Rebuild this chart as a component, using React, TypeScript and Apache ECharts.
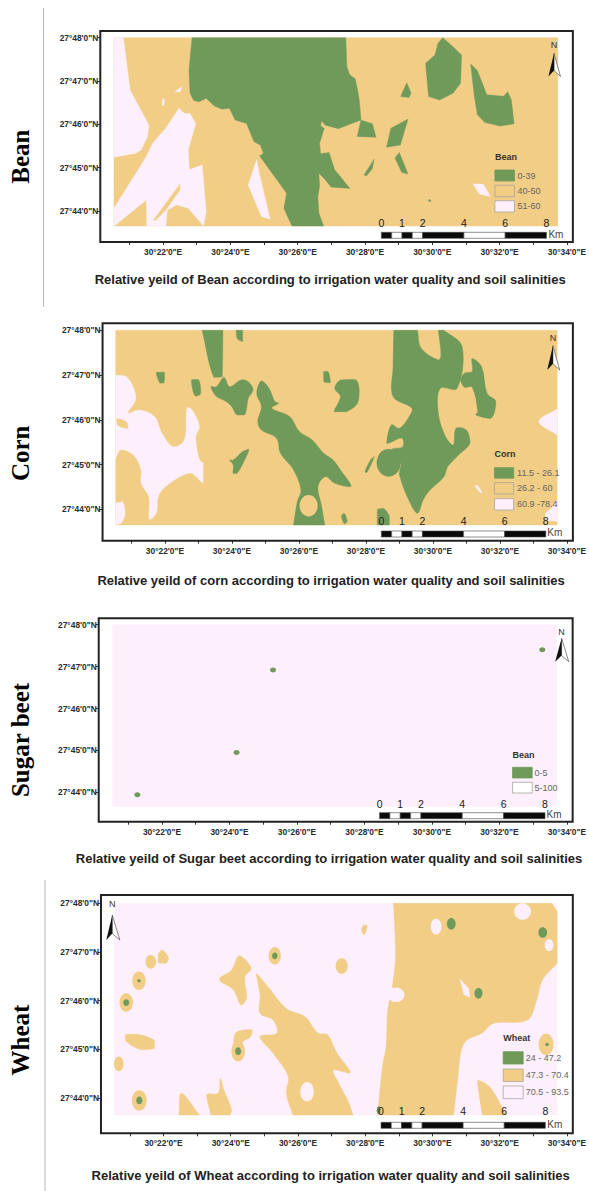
import React, { useEffect, useRef } from "react";
import * as echarts from "echarts";

type P = number[][];
const GREEN = "#6f9a5a";
const TAN = "#f1cd85";
const PINK = "#fdf0fc";

const lonTicks = [21, 22, 23, 24, 25, 26, 27, 28, 29, 30, 31, 32, 33, 34];
const lonLabels = [22, 24, 26, 28, 30, 32, 34];
const latTicks = [44, 45, 46, 47, 48];
const scaleKm = [0, 1, 2, 4, 6, 8];

const beanGreen: P[] = [
  [[22.86,48],[27.43,48],[27.46,47.33],[27.55,47.14],[27.71,47.05],[27.77,46.83],[27.83,46.56],[27.88,46.1],[27.21,45.9],[26.82,45.98],[26.71,46.08],[26.68,45.96],[26.79,45.91],[26.65,45.56],[26.68,45.32],[26.93,45.35],[27.1,44.95],[27.27,44.79],[27.55,44.52],[26.99,44.55],[26.82,44.72],[26.63,44.87],[26.65,44.56],[26.6,44.33],[26.63,43.95],[26.77,43.65],[25.83,43.65],[25.59,44.06],[25.67,44.41],[24.87,45.27],[24.98,45.33],[24.89,45.52],[24.7,45.6],[24.48,46.02],[24.14,46.1],[23.97,46.37],[23.75,46.35],[23.53,46.42],[23.28,46.6],[23.08,46.52],[22.91,46.55],[22.8,46.72],[22.77,47.25]],
  [[30.31,48],[30.56,47.83],[30.87,47.6],[30.84,46.95],[30.62,46.72],[30.22,46.56],[29.89,46.64],[29.8,47.41],[30.08,47.6],[30.17,47.87]],
  [[31.14,47.39],[31.34,47.24],[31.62,46.68],[32.12,46.65],[32.24,46.75],[32.35,46.56],[32.43,46.01],[32.01,45.96],[31.56,46.04],[31.34,46.22],[31.25,46.64]],
  [[29.24,46.96],[29.37,46.72],[29.31,46.62],[29.06,46.64]],
  [[27.88,46.1],[28.22,46.01],[28.33,45.7],[27.77,45.72]],
  [[29.28,46.12],[29.05,45.52],[28.64,45.47],[28.77,45.91]],
  [[29.02,45.35],[29.28,44.85],[29.09,44.89],[28.89,45.22]],
  [[28.27,45.19],[28.22,44.98],[28.05,44.81],[27.97,44.83]],
  [[29.91,44.27],[29.97,44.23],[29.91,44.21],[29.88,44.24]],
];
const beanPink: P[] = [
  [[20.54,48],[20.82,48],[21.02,46.79],[21.58,45.98],[21.54,45.72],[21.35,45.41],[21.19,45.33],[20.54,45.24]],
  [[20.54,44.06],[21.5,45.25],[21.69,45.56],[22.08,45.91],[22.47,46.37],[22.64,46.25],[22.8,46.25],[22.97,46.02],[22.75,45.41],[22.78,44.95],[23.16,45.06],[23.28,43.98],[23.2,43.65],[22.75,44.06],[22.41,44.14],[22.13,44.02],[22.08,43.65],[21.52,43.65],[21.5,44.25],[20.55,43.65]],
  [[24.78,45.18],[24.53,44.6],[24.92,43.87],[25.18,43.81],[24.87,44.83]],
  [[31.21,44.62],[31.51,44.62],[31.73,44.33],[31.4,44.39]],
  [[22.55,46.87],[22.52,46.75],[22.36,46.75]],
  [[21.99,46.6],[22.04,46.56],[22.02,46.42],[21.97,46.45]],
];
const beanTanStreak: P[] = [
  [[21.72,43.79],[22.5,44.62],[22.5,44.48],[22.08,44.02],[21.77,43.78]],
];

const cornPink: P[] = [
  [[20.53,47.0],[20.84,46.97],[21.07,46.7],[21.12,46.44],[20.9,46.15],[21.24,46.22],[21.69,46.07],[21.91,45.7],[22.25,45.4],[22.58,45.55],[22.66,46.26],[22.81,46.22],[23.03,45.85],[22.92,45.62],[23.03,45.1],[23.14,45.03],[23.14,44.6],[22.75,44.81],[22.02,44.51],[21.8,44.28],[21.74,43.91],[21.54,43.76],[21.52,44.28],[21.29,44.58],[21.29,44.88],[21.07,45.21],[20.68,45.33],[20.53,45.14]],
  [[20.53,44.14],[20.73,44.17],[20.81,43.91],[20.7,43.7],[20.53,43.65]],
  [[33.71,46.24],[33.16,45.96],[33.71,45.66]],
  [[33.71,44.21],[33.71,43.73],[33.38,43.76],[33.36,43.91],[33.53,44.02]],
  [[31.26,44.54],[31.34,44.52],[31.47,44.37],[31.39,44.39]],
];
const cornTanNotch: P[] = [
  [[20.56,46.03],[20.84,45.96],[20.9,45.81],[20.59,45.88]],
];
const cornGreen: P[] = [
  [[23.11,48],[23.73,48],[23.71,46.97],[23.46,46.95]],
  [[24.13,48],[24.32,48],[24.32,47.75],[24.15,47.82]],
  [[21.74,47.06],[21.99,47.06],[21.97,46.82],[21.85,46.82]],
  [[22.79,46.89],[23.0,46.9],[23.07,46.59],[22.9,46.53]],
  [[23.37,46.74],[23.54,46.74],[23.76,46.95],[23.93,46.74],[24.27,46.89],[24.49,46.85],[24.63,46.67],[24.49,46.48],[24.38,46.11],[24.15,46.11],[23.99,46.3],[23.82,46.41],[23.54,46.52],[23.43,46.63]],
  [[24.88,46.87],[25.11,46.7],[25.28,46.41],[25.39,46.37],[25.19,46.26],[25.73,46.07],[26.01,45.74],[26.4,45.55],[26.74,45.25],[27.02,45.1],[27.24,44.88],[27.56,44.52],[27.07,44.58],[26.79,44.73],[26.57,44.51],[26.68,44.06],[26.77,43.65],[25.84,43.65],[25.95,44.17],[26.06,44.43],[25.84,44.88],[25.45,45.25],[25.33,45.59],[24.88,45.77],[24.77,45.96],[24.88,46.3],[24.74,46.59]],
  [[24.04,45.1],[24.32,45.29],[24.51,45.34],[24.38,45.1],[24.15,44.8],[24.04,44.8],[24.04,44.99],[23.93,45.1]],
  [[26.74,47.08],[26.87,47.08],[26.94,46.83],[26.74,46.85]],
  [[27.24,46.89],[27.69,46.9],[27.8,46.67],[27.75,46.37],[27.41,46.18],[27.05,46.18],[27.24,46.52],[27.07,46.7]],
  [[28.83,48],[29.54,48],[29.65,47.6],[30.16,47.34],[30.24,47.45],[30.16,48],[30.33,48],[30.87,47.64],[30.72,46.7],[30.22,46.7],[30.16,46.15],[30.38,45.62],[30.61,45.44],[30.69,45.81],[31,45.77],[31.11,45.48],[30.72,45.18],[30.44,44.95],[30.33,44.73],[29.9,44.42],[29.71,44.21],[29.54,43.91],[29.32,44.14],[29.0,44.77],[29.04,45.03],[28.76,45.33],[29.1,45.4],[29.07,45.59],[28.62,45.48],[28.76,45.89],[29,45.81],[29.32,46.11],[29.37,46.26],[28.81,46.52],[28.81,47.19]],
  [[31.17,47.37],[31.45,47.19],[31.62,46.59],[31.88,46.41],[31.73,46.03],[31.28,46.11],[31.34,46.18],[31.17,46.73],[30.94,46.73],[30.83,46.89],[30.94,47.04],[31.17,47.08]],
  [[28.34,43.99],[28.53,44.02],[28.7,43.84],[28.7,43.65],[28.34,43.65]],
  [[27.35,43.91],[27.44,43.73],[27.35,43.67],[27.27,43.84]],
  [[28.25,45.18],[28.03,44.82],[27.97,44.84],[28.14,45.1]],
];
const cornGreenRound = [[28.68, 45.04, 0.36, 0.31]];
const cornTanRound = [[26.29, 44.08, 0.27, 0.24]];

const sugarGreenDots = [
  [25.29, 46.92, 0.09, 0.06],
  [24.21, 44.95, 0.09, 0.06],
  [21.27, 43.94, 0.09, 0.06],
  [33.27, 47.4, 0.09, 0.06],
];

const wheatTan: P[] = [
  [[28.84,48],[33.55,48],[33.71,47.83],[33.71,46.77],[33.27,46.42],[33.1,46.01],[32.82,45.6],[31.81,45.53],[31.47,45.33],[31.03,45.19],[30.86,44.99],[30.75,44.37],[30.63,43.65],[28.37,43.65],[28.51,44.64],[28.62,45.05],[28.67,45.81],[28.79,46.22],[28.9,46.9]],
  [[31.34,44.37],[31.7,44.23],[32.2,43.65],[31.48,43.65]],
  [[24.25,46.92],[24.61,46.66],[24.42,46.49],[24.47,46.05],[24.31,45.91],[24.08,46.22],[23.66,46.44],[24.03,46.63]],
  [[24.75,46.56],[25.15,46.25],[25.65,45.84],[26.21,45.67],[26.6,45.33],[26.88,45.3],[27.16,44.92],[27.55,44.52],[27.05,44.57],[27.22,44.3],[27.5,43.92],[27.64,43.65],[25.85,43.65],[25.65,44.1],[25.71,44.44],[25.26,44.92],[24.87,45.26],[25.37,45.33],[25.26,45.6],[24.87,45.74],[24.87,46.12]],
  [[24.14,45.33],[24.42,45.4],[24.64,45.4],[24.59,45.26],[24.36,45.16],[24.31,45.05],[24.08,45.05]],
  [[20.86,45.3],[21.23,45.31],[21.73,45.18],[21.73,45.02],[21.34,44.99],[20.89,45.16]],
  [[22.52,44.1],[23.07,43.65],[22.46,43.65]],
  [[23.69,44.4],[23.8,44.16],[24.03,43.75],[23.97,43.65],[23.41,43.65],[23.28,44.06],[23.63,44.1]],
  [[27.95,47.55],[28.06,47.55],[27.97,47.35],[27.89,47.45]],
  [[21.84,46.94],[21.96,47.04],[22.15,46.87],[22.07,46.77],[21.84,46.78]],
];
const wheatTanRound = [
  [25.31, 46.92, 0.18, 0.18],
  [27.3, 46.71, 0.18, 0.16],
  [21.27, 46.41, 0.2, 0.19],
  [20.89, 45.96, 0.2, 0.19],
  [24.22, 44.96, 0.2, 0.21],
  [21.28, 43.95, 0.22, 0.21],
  [33.38, 45.1, 0.22, 0.22],
  [21.62, 46.8, 0.16, 0.14],
  [20.67, 44.7, 0.14, 0.15],
];
const wheatPink: P[] = [
  [[30.82,46.44],[31.08,46.25],[31.11,46.07],[30.94,46.12]],
];
const wheatPinkRound = [
  [32.68, 47.83, 0.25, 0.17],
  [30.11, 47.52, 0.16, 0.16],
  [33.47, 47.14, 0.13, 0.12],
  [28.92, 46.12, 0.25, 0.15],
  [26.27, 44.13, 0.2, 0.2],
];
const wheatGreenRound = [
  [30.56, 47.58, 0.13, 0.12],
  [33.28, 47.4, 0.13, 0.11],
  [31.37, 46.15, 0.12, 0.11],
  [25.31, 46.92, 0.08, 0.07],
  [21.27, 46.41, 0.05, 0.035],
  [20.89, 45.96, 0.09, 0.07],
  [24.22, 44.96, 0.09, 0.08],
  [21.28, 43.95, 0.09, 0.08],
  [33.41, 45.1, 0.05, 0.035],
  [28.4, 43.75, 0.06, 0.08],
];

const titles = [
  "Relative yeild of Bean according to irrigation water quality and soil salinities",
  "Relative yeild of corn according to irrigation water quality and soil salinities",
  "Relative yeild of Sugar beet according to irrigation water quality and soil salinities",
  "Relative yeild of Wheat according to irrigation water quality and soil salinities",
];
const sideLabels = ["Bean", "Corn", "Sugar beet", "Wheat"];

const SOFT = 0.35;
const SX = 1.1307; // horizontal layout factor

const onMapEdge = (c: number[]) => c[1] >= 47.99 || c[1] <= 43.67 || c[0] <= 20.56 || c[0] >= 33.7;

const panels = [
  {
    frame: [88.7, 31, 508, 242], lon22: 144.4, lonPx: 29.86, lat48: 37.7, latPx: 43.3,
    layers: [
      { color: TAN, polys: [[[20.54,48],[33.73,48],[33.73,43.65],[20.54,43.65]]] as P[], ells: [] as number[][] },
      { color: PINK, polys: beanPink, ells: [] },
      { color: TAN, polys: beanTanStreak, ells: [] },
      { color: GREEN, polys: beanGreen, ells: [] },
    ],
    legendTitle: "Bean", legendX: 437.7, legendW: 17.3, titleY: 157,
    legend: [[GREEN, 170, 11, "0-39"], [TAN, 185.3, 11.4, "40-50"], [PINK, 200.7, 11.3, "51-60"]],
    labelX: 457.7,
    north: [490, 45, 53.3, 76.5, 485, 495.7],
    scale: [337.3, 483.3, 232.3, 222.7], km: [485, 234],
    titleXY: [292, 279.3], side: 156.7,
  },
  {
    frame: [90.7, 323.3, 507.7, 540.7], lon22: 146, lonPx: 29.7, lat48: 330.3, latPx: 44.75,
    layers: [
      { color: TAN, polys: [[[20.53,48],[33.71,48],[33.71,43.65],[20.53,43.65]]] as P[], ells: [] as number[][] },
      { color: PINK, polys: cornPink, ells: [], smooth: SOFT },
      { color: TAN, polys: cornTanNotch, ells: [], smooth: SOFT },
      { color: GREEN, polys: cornGreen, ells: cornGreenRound, smooth: SOFT },
      { color: TAN, polys: [], ells: cornTanRound },
    ],
    legendTitle: "Corn", legendX: 437.3, legendW: 17, titleY: 454,
    legend: [[GREEN, 467.7, 10.5, "11.5 - 26.1"], [TAN, 482.7, 11.3, "26.2 - 60"], [PINK, 498.7, 11.3, "60.9 -78.4"]],
    labelX: 457.3,
    north: [489, 337.7, 345.7, 370, 484, 495],
    scale: [337.3, 482.7, 531, 521.3], km: [484, 532.7],
    titleXY: [292.8, 580], side: 453.3,
  },
  {
    frame: [87.3, 618.3, 506.7, 821.7], lon22: 143.3, lonPx: 29.86, lat48: 624.7, latPx: 41.9,
    layers: [
      { color: PINK, polys: [[[20.53,48],[33.7,48],[33.7,43.66],[20.53,43.66]]] as P[], ells: [] as number[][] },
      { color: GREEN, polys: [], ells: sugarGreenDots },
    ],
    legendTitle: "Bean", legendX: 453.3, legendW: 17.4, titleY: 755,
    legend: [[GREEN, 767.3, 10.7, "0-5"], ["#ffffff", 782.3, 10.7, "5-100"]],
    labelX: 472.7,
    north: [496.7, 631.7, 638.3, 661.7, 491, 503],
    scale: [335.7, 482, 812.7, 803.7], km: [483.3, 814.7],
    titleXY: [291, 858], side: 740,
  },
  {
    frame: [89.3, 895, 507.3, 1133.3], lon22: 144.7, lonPx: 29.78, lat48: 903.3, latPx: 48.67,
    layers: [
      { color: PINK, polys: [[[20.53,48],[33.71,48],[33.71,43.65],[20.53,43.65]]] as P[], ells: [] as number[][] },
      { color: TAN, polys: wheatTan, ells: wheatTanRound, smooth: SOFT },
      { color: PINK, polys: wheatPink, ells: wheatPinkRound },
      { color: GREEN, polys: [], ells: wheatGreenRound },
    ],
    legendTitle: "Wheat", legendX: 445, legendW: 17.7, titleY: 1037.7,
    legend: [[GREEN, 1051.7, 12.3, "24 - 47.2"], [TAN, 1069, 12.5, "47.3 - 70.4"], [PINK, 1086, 12.7, "70.5 - 93.5"]],
    labelX: 465,
    north: [99.3, 904.3, 915, 940, 94, 106],
    scale: [337, 482.3, 1122.3, 1111], km: [484, 1124],
    titleXY: [292.5, 1175], side: 1040,
  },
];

function buildOption() {
  const grid: any[] = [], xAxis: any[] = [], yAxis: any[] = [], series: any[] = [], graphic: any[] = [];
  const labelStyle = { fontFamily: "Liberation Sans", fontSize: 8.4, color: "#2a2a2a", fontWeight: "bold" as const };

  panels.forEach((p, i) => {
    const l = p.frame[0] * SX, t = p.frame[1], r = p.frame[2] * SX, b = p.frame[3];
    const lon22 = p.lon22 * SX, lonPx = p.lonPx * SX;
    grid.push({ left: l, top: t, width: r - l, height: b - t, show: true, backgroundColor: "#fff", borderColor: "#222", borderWidth: 2, containLabel: false, z: 1 });
    xAxis.push({
      type: "value", gridIndex: i,
      min: 22 + (l - lon22) / lonPx, max: 22 + (r - lon22) / lonPx,
      axisLine: { show: false }, splitLine: { show: false },
      axisTick: { show: true, length: 3, customValues: lonTicks, lineStyle: { color: "#333", width: 1 } },
      axisLabel: { show: true, customValues: lonLabels, margin: 6, formatter: (v: number) => `30°${v}'0"E`, ...labelStyle },
    });
    yAxis.push({
      type: "value", gridIndex: i,
      min: 48 - (b - p.lat48) / p.latPx, max: 48 + (p.lat48 - t) / p.latPx,
      axisLine: { show: false }, splitLine: { show: false },
      axisTick: { show: true, length: 3, customValues: latTicks, lineStyle: { color: "#333", width: 1 } },
      axisLabel: { show: true, customValues: latTicks, margin: 2, formatter: (v: number) => `27°${v}'0"N`, ...labelStyle },
    });

    p.layers.forEach((layer: any) => {
      if (layer.polys.length) {
        series.push({
          type: "custom", coordinateSystem: "cartesian2d", xAxisIndex: i, yAxisIndex: i, silent: true, clip: false,
          z: 2,
          data: layer.polys.map((q: P) => q[0]),
          renderItem: (params: any, api: any) => {
            const ring: P = layer.polys[params.dataIndex];
            const shape: any = {};
            if (layer.smooth) {
              // a doubled vertex stays a sharp corner: the sheet's straight edges are kept
              const pts = ring.flatMap((c) => (onMapEdge(c) ? [api.coord(c), api.coord(c)] : [api.coord(c)]));
              shape.points = pts;
              shape.smooth = layer.smooth;
              shape.smoothConstraint = [pts[0], pts[0]];
            } else {
              shape.points = ring.map((c) => api.coord(c));
            }
            return { type: "polygon", shape, style: { fill: layer.color, stroke: layer.color, lineWidth: 0.4 } };
          },
        });
      }
      if (layer.ells.length) {
        series.push({
          type: "custom", coordinateSystem: "cartesian2d", xAxisIndex: i, yAxisIndex: i, silent: true, clip: false,
          z: 2,
          data: layer.ells.map((e: number[]) => [e[0], e[1]]),
          renderItem: (params: any, api: any) => {
            const e = layer.ells[params.dataIndex];
            const c = api.coord([e[0], e[1]]);
            const s = api.size([e[2], e[3]]);
            return { type: "ellipse", shape: { cx: c[0], cy: c[1], rx: s[0], ry: s[1] }, style: { fill: layer.color } };
          },
        });
      }
    });

    // legend
    const lx = p.legendX * SX, lw = p.legendW * SX;
    graphic.push({ type: "text", x: lx, y: p.titleY, style: { text: p.legendTitle, font: "bold 9px 'Liberation Sans'", fill: "#333", verticalAlign: "middle" } });
    (p.legend as any[]).forEach(([col, y, h, lab]) => {
      graphic.push({ type: "rect", shape: { x: lx, y, width: lw, height: h }, style: { fill: col, stroke: col === GREEN ? GREEN : "#a9a4a0", lineWidth: 0.8 } });
      graphic.push({ type: "text", x: p.labelX * SX, y: y + h / 2, style: { text: lab, font: "9px 'Liberation Sans'", fill: "#666", verticalAlign: "middle" } });
    });

    // north arrow
    const [nx0, ny, apex, base, al0, ar0] = p.north;
    const nx = nx0 * SX, al = al0 * SX, ar = ar0 * SX;
    graphic.push({ type: "text", x: nx, y: ny, style: { text: "N", font: "9px 'Liberation Sans'", fill: "#333", align: "center", verticalAlign: "middle" } });
    const notch = apex + (base - apex) * 0.74;
    graphic.push({ type: "polygon", shape: { points: [[nx, apex], [ar, base], [nx, notch]] }, style: { fill: "#fff", stroke: "#555", lineWidth: 0.7 } });
    graphic.push({ type: "polygon", shape: { points: [[nx, apex], [al, base], [nx, notch]] }, style: { fill: "#111" } });

    // scale bar
    const sx0 = p.scale[0] * SX, sx1 = p.scale[1] * SX, sy = p.scale[2], sly = p.scale[3];
    const kmPx = (sx1 - sx0) / 8;
    const breaks = [0, 0.5, 1, 1.5, 2, 4, 6, 8];
    for (let k = 0; k < breaks.length - 1; k++) {
      const dark = k % 2 === 0;
      graphic.push({ type: "rect", shape: { x: sx0 + breaks[k] * kmPx, y: sy, width: (breaks[k + 1] - breaks[k]) * kmPx, height: 6 }, style: { fill: dark ? "#0a0a0a" : "#fff", stroke: "#444", lineWidth: 0.6 } });
    }
    scaleKm.forEach((km) => {
      graphic.push({ type: "text", x: sx0 + km * kmPx, y: sly, style: { text: String(km), font: "10.5px 'Liberation Sans'", fill: "#222", align: "center", verticalAlign: "middle" } });
    });
    graphic.push({ type: "text", x: p.km[0] * SX, y: p.km[1], style: { text: "Km", font: "10px 'Liberation Sans'", fill: "#444", verticalAlign: "middle" } });

    // caption + side label
    graphic.push({ type: "text", x: p.titleXY[0] * SX, y: p.titleXY[1], style: { text: titles[i], font: "bold 13px 'Liberation Sans'", fill: "#222", align: "center", verticalAlign: "middle" } });
    graphic.push({ type: "text", x: 20.4, y: p.side, rotation: Math.PI / 2, style: { text: sideLabels[i], font: "bold 25px 'Liberation Serif'", fill: "#000", align: "center", verticalAlign: "middle" } });
  });

  graphic.push({ type: "line", shape: { x1: 43.5, y1: 8, x2: 43.5, y2: 307 }, style: { stroke: "#b5b5b5", lineWidth: 1 } });
  graphic.push({ type: "line", shape: { x1: 45, y1: 880, x2: 45, y2: 1191 }, style: { stroke: "#b5b5b5", lineWidth: 1 } });

  return { animation: false, backgroundColor: "#fff", grid, xAxis, yAxis, series, graphic: { elements: graphic.map((g) => ({ ...g, z: 10 })) } };
}

export default function App() {
  const ref = useRef<HTMLDivElement>(null);
  useEffect(() => {
    const chart = echarts.init(ref.current!, undefined, { renderer: "svg" });
    chart.setOption(buildOption() as any);
    return () => chart.dispose();
  }, []);
  return <div ref={ref} style={{ position: "absolute", left: 0, top: 0, width: 589, height: 1191 }} />;
}
